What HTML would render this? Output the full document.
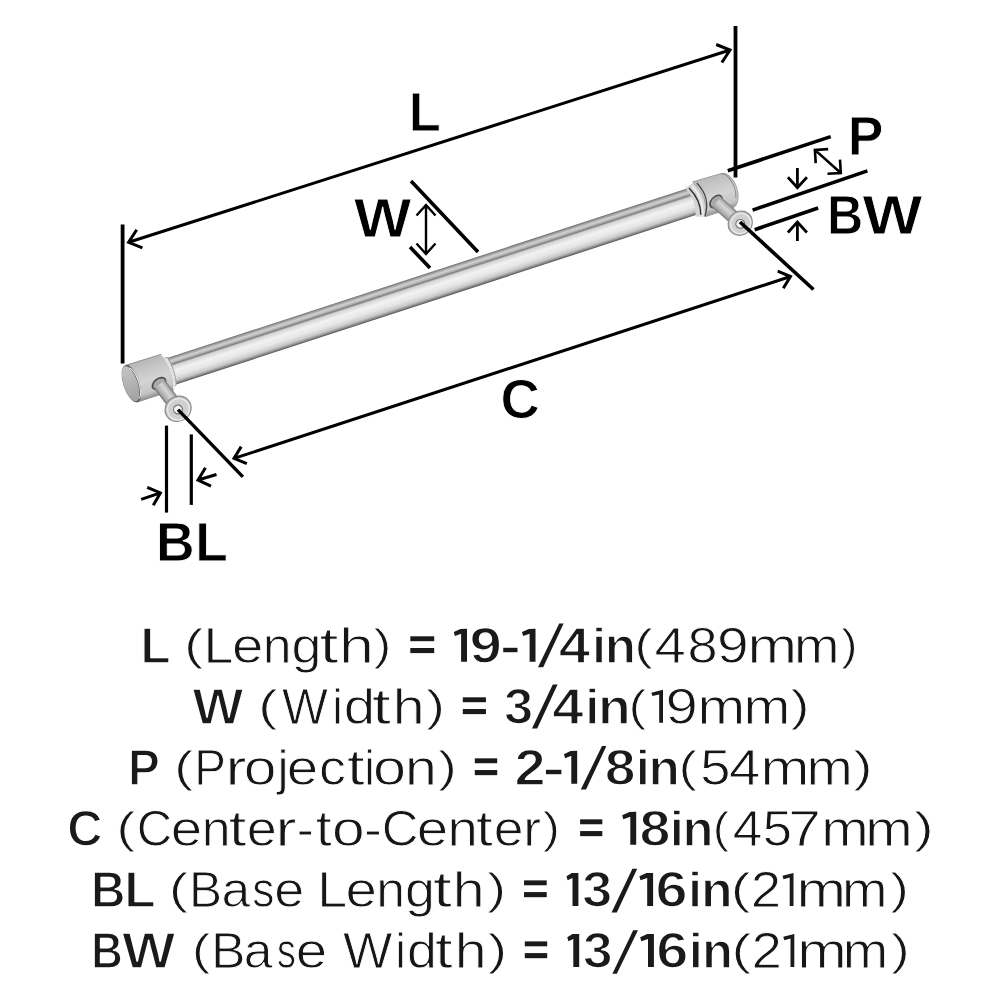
<!DOCTYPE html>
<html><head><meta charset="utf-8"><title>Pull dimensions</title>
<style>
html,body{margin:0;padding:0;background:#fff;width:1000px;height:1000px;overflow:hidden}
svg{display:block;will-change:transform}
text{font-family:"Liberation Sans",sans-serif}
</style></head><body>
<svg width="1000" height="1000" viewBox="0 0 1000 1000">
<rect width="1000" height="1000" fill="#fff"/>

<defs>
<linearGradient id="gbar" x1="0" y1="-14" x2="0" y2="14" gradientUnits="userSpaceOnUse">
 <stop offset="0" stop-color="#6a6a6a"/>
 <stop offset="0.06" stop-color="#a0a0a0"/>
 <stop offset="0.14" stop-color="#d2d2d2"/>
 <stop offset="0.21" stop-color="#b4b4b4"/>
 <stop offset="0.27" stop-color="#7e7e7e"/>
 <stop offset="0.33" stop-color="#d4d4d4"/>
 <stop offset="0.5" stop-color="#f2f2f2"/>
 <stop offset="0.7" stop-color="#e6e6e6"/>
 <stop offset="0.86" stop-color="#c6c6c6"/>
 <stop offset="0.94" stop-color="#8c8c8c"/>
 <stop offset="1" stop-color="#505050"/>
</linearGradient>
<linearGradient id="gcap" x1="0" y1="-19.5" x2="0" y2="19" gradientUnits="userSpaceOnUse">
 <stop offset="0" stop-color="#b8b8b8"/>
 <stop offset="0.25" stop-color="#c6c6c6"/>
 <stop offset="0.55" stop-color="#d4d4d4"/>
 <stop offset="0.85" stop-color="#c4c4c4"/>
 <stop offset="1" stop-color="#8c8c8c"/>
</linearGradient>
<linearGradient id="gface" x1="0" y1="-19" x2="0" y2="19" gradientUnits="userSpaceOnUse">
 <stop offset="0" stop-color="#c4c4c4"/>
 <stop offset="0.5" stop-color="#b2b2b2"/>
 <stop offset="1" stop-color="#a0a0a0"/>
</linearGradient>
<linearGradient id="gpin" x1="0" y1="-6.8" x2="0" y2="6.8" gradientUnits="userSpaceOnUse">
 <stop offset="0" stop-color="#7a7a7a"/>
 <stop offset="0.18" stop-color="#b8b8b8"/>
 <stop offset="0.4" stop-color="#d6d6d6"/>
 <stop offset="0.65" stop-color="#bdbdbd"/>
 <stop offset="0.85" stop-color="#a6a6a6"/>
 <stop offset="1" stop-color="#6e6e6e"/>
</linearGradient>
</defs>
<g transform="translate(380 303.3) rotate(-18.056)">
 <rect x="-224" y="-14" width="562" height="28" fill="url(#gbar)"/>
 <!-- left cap -->
 <path d="M-226 -15.5 L-219 -14.5 Q-215 0 -219 14.5 L-226 15.5 Z" fill="#e2e2e2" stroke="#999" stroke-width="0.8"/>
 <path d="M-261 -19.8 L-224 -19.3 Q-216 -2 -223 18.6 L-261 18.6 A8 19.2 0 0 1 -261 -19.8 Z" fill="url(#gcap)" stroke="#8e8e8e" stroke-width="0.9"/>
 <path d="M-224 -19.3 Q-216 -2 -223 18.6" fill="none" stroke="#e8e8e8" stroke-width="1.4"/>
 <ellipse cx="-261" cy="-0.6" rx="7.8" ry="19.3" fill="#5a5a5a"/>
 <ellipse cx="-262" cy="-0.8" rx="7" ry="18.3" fill="url(#gface)"/>
 <path d="M-258.5 -16.5 A6.5 17 0 0 1 -258.5 16" fill="none" stroke="#e6e6e6" stroke-width="1.1"/>
 <!-- right cap -->
 <path d="M326 -15 L336 -17.8 Q346 1 336 18.2 L327 15.5 Q333 0 326 -15 Z" fill="#d4d4d4"/>
 <path d="M335 -18.6 L364.5 -17.6 A10.5 18 0 0 1 364.5 18.6 L336 18.4 Q346 1 335 -18.6 Z" fill="url(#gcap)" stroke="#9a9a9a" stroke-width="0.8"/>
 <path d="M329.5 -13.8 Q337 1 332.5 15.2" fill="none" stroke="#2e2e2e" stroke-width="1.4"/>
 <path d="M338.5 -16.2 Q347.5 2 335.8 18" fill="none" stroke="#444" stroke-width="1.2"/>
 <path d="M333 -15.5 Q340.5 1 334 16.8" fill="none" stroke="#efefef" stroke-width="1.6"/>
 <path d="M364.5 -17.6 A10.5 18 0 0 1 371 10" fill="none" stroke="#8a8a8a" stroke-width="1"/>
</g>
<g transform="translate(159 383.5) rotate(52.94)">
 <ellipse cx="0" cy="0" rx="5.5" ry="8.3" fill="#4a4a4a"/>
 <ellipse cx="0.8" cy="0" rx="4.8" ry="6.9" fill="#a8a8a8"/>
 <rect x="0.8" y="-6.9" width="29.9" height="13.8" fill="url(#gpin)"/>
 <ellipse cx="28.7" cy="0" rx="6.7" ry="13.4" fill="#8e8e8e"/>
</g>
<g transform="translate(177.5 408) rotate(52.94)">
 <ellipse cx="1" cy="0" rx="12.3" ry="13.4" fill="#c4c4c4" stroke="#8a8a8a" stroke-width="1.1"/>
 <ellipse cx="1.6" cy="0" rx="10.5" ry="11.2" fill="#cfcfcf" stroke="#ececec" stroke-width="1.3"/>
 <circle cx="1.5" cy="0.5" r="4.4" fill="#f4f4f4" stroke="#6a6a6a" stroke-width="1.1"/>
</g><g transform="translate(716 201.5) rotate(41.78)">
 <ellipse cx="0" cy="0" rx="5.4" ry="8.2" fill="#4a4a4a"/>
 <ellipse cx="0.8" cy="0" rx="4.8" ry="6.8" fill="#a8a8a8"/>
 <rect x="0.8" y="-6.8" width="30.7" height="13.6" fill="url(#gpin)"/>
 <ellipse cx="29.5" cy="0" rx="6.3" ry="12.6" fill="#8e8e8e"/>
</g>
<g transform="translate(739.5 222.5) rotate(41.78)">
 <ellipse cx="1" cy="0" rx="11.6" ry="12.6" fill="#c4c4c4" stroke="#8a8a8a" stroke-width="1.1"/>
 <ellipse cx="1.6" cy="0" rx="9.8" ry="10.4" fill="#cfcfcf" stroke="#ececec" stroke-width="1.3"/>
 <circle cx="1.5" cy="0.5" r="4.4" fill="#f4f4f4" stroke="#6a6a6a" stroke-width="1.1"/>
</g>
<g fill="none" stroke="#000" stroke-linecap="butt" stroke-linejoin="miter">
<path d="M122.6 224.5 L122.6 363.5" stroke-width="3.8"/>
<path d="M735.5 26.0 L735.5 177.5" stroke-width="3.8"/>
<path d="M128.6 242.3 L730.0 50.0 M136.7 229.8 L128.6 242.3 L142.4 247.8 M721.9 62.5 L730.0 50.0 L716.2 44.5" stroke-width="3.0"/>
<path d="M411.0 181.0 L478.0 252.0" stroke-width="3.6"/>
<path d="M410.0 247.0 L430.0 268.0" stroke-width="3.6"/>
<path d="M426.0 205.0 L426.0 254.0 M435.5 215.5 L426.0 205.0 L416.5 215.5 M416.5 243.5 L426.0 254.0 L435.5 243.5" stroke-width="2.4"/>
<path d="M727.8 170.8 L830.7 136.6" stroke-width="3.6"/>
<path d="M752.6 210.1 L867.4 170.9" stroke-width="3.6"/>
<path d="M754.7 229.7 L818.1 208.0" stroke-width="3.6"/>
<path d="M814.9 149.9 L840.8 173.0 M828.2 149.1 L814.9 149.9 L815.7 163.2 M827.5 173.8 L840.8 173.0 L840.0 159.7" stroke-width="2.6"/>
<path d="M797.4 168.1 L797.4 187.7 M787.9 177.2 L797.4 187.7 L806.9 177.2" stroke-width="2.8"/>
<path d="M797.4 240.9 L797.4 222.0 M806.9 232.5 L797.4 222.0 L787.9 232.5" stroke-width="2.8"/>
<path d="M178.0 409.6 L242.9 476.9" stroke-width="3.4"/>
<path d="M740.0 222.0 L813.5 289.5" stroke-width="3.6"/>
<path d="M234.0 458.4 L790.5 276.5 M241.2 446.6 L234.0 458.4 L246.8 463.7 M783.3 288.3 L790.5 276.5 L777.7 271.2" stroke-width="3.0"/>
<path d="M166.5 425.6 L166.5 512.6" stroke-width="3.2"/>
<path d="M191.3 434.4 L191.3 504.9" stroke-width="3.2"/>
<path d="M141.2 499.3 L160.4 492.9 M153.3 505.3 L160.4 492.9 L147.2 487.3" stroke-width="3.0"/>
<path d="M216.5 474.5 L198.0 480.0 M205.5 467.8 L198.0 480.0 L211.0 486.1" stroke-width="3.0"/>
</g>
<text transform="matrix(0.9685 0 0 1 140.47 662.89)" font-weight="bold" font-size="50.8" fill="#1a1a1a" stroke="#fff" stroke-width="1.45" stroke-linejoin="round">L</text>
<text transform="matrix(1.2867 0 0 1 183.93 662.66)" font-weight="normal" font-size="49.9" fill="#161616" stroke="#fff" stroke-width="0.9" stroke-linejoin="round"><tspan font-size="45" dy="-2.6">(</tspan></text>
<text transform="matrix(1.0792 0 0 1 203.60 662.66)" font-weight="normal" font-size="49.9" fill="#161616" stroke="#fff" stroke-width="0.9" stroke-linejoin="round">L</text>
<text transform="matrix(1.1309 0 0 1 231.95 662.66)" font-weight="normal" font-size="49.9" fill="#161616" stroke="#fff" stroke-width="0.9" stroke-linejoin="round">e</text>
<text transform="matrix(1.0375 0 0 1 262.84 662.66)" font-weight="normal" font-size="49.9" fill="#161616" stroke="#fff" stroke-width="0.9" stroke-linejoin="round">n</text>
<text transform="matrix(1.0790 0 0 1 291.54 662.66)" font-weight="normal" font-size="49.9" fill="#161616" stroke="#fff" stroke-width="0.9" stroke-linejoin="round">g</text>
<text transform="matrix(1.3603 0 0 1 319.53 662.66)" font-weight="normal" font-size="49.9" fill="#161616" stroke="#fff" stroke-width="0.9" stroke-linejoin="round">t</text>
<text transform="matrix(1.2586 0 0 1 338.92 662.66)" font-weight="normal" font-size="49.9" fill="#161616" stroke="#fff" stroke-width="0.9" stroke-linejoin="round">h</text>
<text transform="matrix(1.1955 0 0 1 373.56 662.66)" font-weight="normal" font-size="49.9" fill="#161616" stroke="#fff" stroke-width="0.9" stroke-linejoin="round"><tspan font-size="45" dy="-2.6">)</tspan></text>
<text transform="matrix(1.1486 0 0 1 469.55 662.89)" font-weight="bold" font-size="50.8" fill="#1a1a1a" stroke="#fff" stroke-width="1.45" stroke-linejoin="round">9</text>
<text transform="matrix(1.2587 0 0 1 499.84 662.89)" font-weight="bold" font-size="50.8" fill="#1a1a1a" stroke="#fff" stroke-width="1.45" stroke-linejoin="round">-</text>
<text transform="matrix(1.1136 0 0 1 558.79 662.89)" font-weight="bold" font-size="50.8" fill="#1a1a1a" stroke="#fff" stroke-width="1.45" stroke-linejoin="round">4</text>
<text transform="matrix(1.0000 0 0 1 591.97 662.89)" font-weight="bold" font-size="50.8" fill="#1a1a1a" stroke="#fff" stroke-width="1.45" stroke-linejoin="round">i</text>
<text transform="matrix(1.0078 0 0 1 604.68 662.89)" font-weight="bold" font-size="50.8" fill="#1a1a1a" stroke="#fff" stroke-width="1.45" stroke-linejoin="round">n</text>
<text transform="matrix(1.2417 0 0 1 634.36 662.66)" font-weight="normal" font-size="49.9" fill="#161616" stroke="#fff" stroke-width="0.9" stroke-linejoin="round"><tspan font-size="45" dy="-2.6">(</tspan></text>
<text transform="matrix(1.1287 0 0 1 654.58 662.66)" font-weight="normal" font-size="49.9" fill="#161616" stroke="#fff" stroke-width="0.9" stroke-linejoin="round">4</text>
<text transform="matrix(1.0857 0 0 1 687.59 662.66)" font-weight="normal" font-size="49.9" fill="#161616" stroke="#fff" stroke-width="0.9" stroke-linejoin="round">8</text>
<text transform="matrix(1.1408 0 0 1 716.98 662.66)" font-weight="normal" font-size="49.9" fill="#161616" stroke="#fff" stroke-width="0.9" stroke-linejoin="round">9</text>
<text transform="matrix(1.1916 0 0 1 747.54 662.66)" font-weight="normal" font-size="49.9" fill="#161616" stroke="#fff" stroke-width="0.9" stroke-linejoin="round">m</text>
<text transform="matrix(1.0949 0 0 1 794.12 662.66)" font-weight="normal" font-size="49.9" fill="#161616" stroke="#fff" stroke-width="0.9" stroke-linejoin="round">m</text>
<text transform="matrix(1.0876 0 0 1 841.36 662.66)" font-weight="normal" font-size="49.9" fill="#161616" stroke="#fff" stroke-width="0.9" stroke-linejoin="round"><tspan font-size="45" dy="-2.6">)</tspan></text>
<text transform="matrix(1.0623 0 0 1 192.42 723.91)" font-weight="bold" font-size="50.8" fill="#1a1a1a" stroke="#fff" stroke-width="1.45" stroke-linejoin="round">W</text>
<text transform="matrix(1.3137 0 0 1 257.95 723.68)" font-weight="normal" font-size="49.9" fill="#161616" stroke="#fff" stroke-width="0.9" stroke-linejoin="round"><tspan font-size="45" dy="-2.6">(</tspan></text>
<text transform="matrix(0.9746 0 0 1 282.09 723.68)" font-weight="normal" font-size="49.9" fill="#161616" stroke="#fff" stroke-width="0.9" stroke-linejoin="round">W</text>
<text transform="matrix(1.0000 0 0 1 331.93 723.68)" font-weight="normal" font-size="49.9" fill="#161616" stroke="#fff" stroke-width="0.9" stroke-linejoin="round">i</text>
<text transform="matrix(1.1304 0 0 1 343.81 723.68)" font-weight="normal" font-size="49.9" fill="#161616" stroke="#fff" stroke-width="0.9" stroke-linejoin="round">d</text>
<text transform="matrix(1.3603 0 0 1 371.93 723.68)" font-weight="normal" font-size="49.9" fill="#161616" stroke="#fff" stroke-width="0.9" stroke-linejoin="round">t</text>
<text transform="matrix(1.1491 0 0 1 392.86 723.68)" font-weight="normal" font-size="49.9" fill="#161616" stroke="#fff" stroke-width="0.9" stroke-linejoin="round">h</text>
<text transform="matrix(1.2763 0 0 1 425.88 723.68)" font-weight="normal" font-size="49.9" fill="#161616" stroke="#fff" stroke-width="0.9" stroke-linejoin="round"><tspan font-size="45" dy="-2.6">)</tspan></text>
<text transform="matrix(1.0312 0 0 1 503.95 723.91)" font-weight="bold" font-size="50.8" fill="#1a1a1a" stroke="#fff" stroke-width="1.45" stroke-linejoin="round">3</text>
<text transform="matrix(1.1097 0 0 1 552.30 723.91)" font-weight="bold" font-size="50.8" fill="#1a1a1a" stroke="#fff" stroke-width="1.45" stroke-linejoin="round">4</text>
<text transform="matrix(1.0000 0 0 1 585.37 723.91)" font-weight="bold" font-size="50.8" fill="#1a1a1a" stroke="#fff" stroke-width="1.45" stroke-linejoin="round">i</text>
<text transform="matrix(1.0558 0 0 1 597.88 723.91)" font-weight="bold" font-size="50.8" fill="#1a1a1a" stroke="#fff" stroke-width="1.45" stroke-linejoin="round">n</text>
<text transform="matrix(1.1877 0 0 1 628.52 723.68)" font-weight="normal" font-size="49.9" fill="#161616" stroke="#fff" stroke-width="0.9" stroke-linejoin="round"><tspan font-size="45" dy="-2.6">(</tspan></text>
<text transform="matrix(1.1634 0 0 1 665.62 723.68)" font-weight="normal" font-size="49.9" fill="#161616" stroke="#fff" stroke-width="0.9" stroke-linejoin="round">9</text>
<text transform="matrix(1.1476 0 0 1 697.51 723.68)" font-weight="normal" font-size="49.9" fill="#161616" stroke="#fff" stroke-width="0.9" stroke-linejoin="round">m</text>
<text transform="matrix(1.1272 0 0 1 743.39 723.68)" font-weight="normal" font-size="49.9" fill="#161616" stroke="#fff" stroke-width="0.9" stroke-linejoin="round">m</text>
<text transform="matrix(1.2763 0 0 1 790.58 723.68)" font-weight="normal" font-size="49.9" fill="#161616" stroke="#fff" stroke-width="0.9" stroke-linejoin="round"><tspan font-size="45" dy="-2.6">)</tspan></text>
<text transform="matrix(0.9383 0 0 1 128.10 784.93)" font-weight="bold" font-size="50.8" fill="#1a1a1a" stroke="#fff" stroke-width="1.45" stroke-linejoin="round">P</text>
<text transform="matrix(1.2867 0 0 1 173.93 784.70)" font-weight="normal" font-size="49.9" fill="#161616" stroke="#fff" stroke-width="0.9" stroke-linejoin="round"><tspan font-size="45" dy="-2.6">(</tspan></text>
<text transform="matrix(0.9513 0 0 1 194.19 784.70)" font-weight="normal" font-size="49.9" fill="#161616" stroke="#fff" stroke-width="0.9" stroke-linejoin="round">P</text>
<text transform="matrix(1.2631 0 0 1 225.58 784.70)" font-weight="normal" font-size="49.9" fill="#161616" stroke="#fff" stroke-width="0.9" stroke-linejoin="round">r</text>
<text transform="matrix(1.1765 0 0 1 243.87 784.70)" font-weight="normal" font-size="49.9" fill="#161616" stroke="#fff" stroke-width="0.9" stroke-linejoin="round">o</text>
<text transform="matrix(1.0000 0 0 1 277.50 784.70)" font-weight="normal" font-size="49.9" fill="#161616" stroke="#fff" stroke-width="0.9" stroke-linejoin="round">j</text>
<text transform="matrix(1.1309 0 0 1 286.85 784.70)" font-weight="normal" font-size="49.9" fill="#161616" stroke="#fff" stroke-width="0.9" stroke-linejoin="round">e</text>
<text transform="matrix(1.0797 0 0 1 318.90 784.70)" font-weight="normal" font-size="49.9" fill="#161616" stroke="#fff" stroke-width="0.9" stroke-linejoin="round">c</text>
<text transform="matrix(1.2696 0 0 1 347.01 784.70)" font-weight="normal" font-size="49.9" fill="#161616" stroke="#fff" stroke-width="0.9" stroke-linejoin="round">t</text>
<text transform="matrix(1.0000 0 0 1 364.03 784.70)" font-weight="normal" font-size="49.9" fill="#161616" stroke="#fff" stroke-width="0.9" stroke-linejoin="round">i</text>
<text transform="matrix(1.1899 0 0 1 373.04 784.70)" font-weight="normal" font-size="49.9" fill="#161616" stroke="#fff" stroke-width="0.9" stroke-linejoin="round">o</text>
<text transform="matrix(1.1467 0 0 1 405.02 784.70)" font-weight="normal" font-size="49.9" fill="#161616" stroke="#fff" stroke-width="0.9" stroke-linejoin="round">n</text>
<text transform="matrix(1.2674 0 0 1 437.99 784.70)" font-weight="normal" font-size="49.9" fill="#161616" stroke="#fff" stroke-width="0.9" stroke-linejoin="round"><tspan font-size="45" dy="-2.6">)</tspan></text>
<text transform="matrix(1.1011 0 0 1 514.59 784.93)" font-weight="bold" font-size="50.8" fill="#1a1a1a" stroke="#fff" stroke-width="1.45" stroke-linejoin="round">2</text>
<text transform="matrix(1.3555 0 0 1 542.17 784.93)" font-weight="bold" font-size="50.8" fill="#1a1a1a" stroke="#fff" stroke-width="1.45" stroke-linejoin="round">-</text>
<text transform="matrix(1.0892 0 0 1 604.66 784.93)" font-weight="bold" font-size="50.8" fill="#1a1a1a" stroke="#fff" stroke-width="1.45" stroke-linejoin="round">8</text>
<text transform="matrix(1.0000 0 0 1 635.87 784.93)" font-weight="bold" font-size="50.8" fill="#1a1a1a" stroke="#fff" stroke-width="1.45" stroke-linejoin="round">i</text>
<text transform="matrix(1.0121 0 0 1 648.56 784.93)" font-weight="bold" font-size="50.8" fill="#1a1a1a" stroke="#fff" stroke-width="1.45" stroke-linejoin="round">n</text>
<text transform="matrix(1.2327 0 0 1 678.39 784.70)" font-weight="normal" font-size="49.9" fill="#161616" stroke="#fff" stroke-width="0.9" stroke-linejoin="round"><tspan font-size="45" dy="-2.6">(</tspan></text>
<text transform="matrix(1.0889 0 0 1 700.28 784.70)" font-weight="normal" font-size="49.9" fill="#161616" stroke="#fff" stroke-width="0.9" stroke-linejoin="round">5</text>
<text transform="matrix(1.1287 0 0 1 728.98 784.70)" font-weight="normal" font-size="49.9" fill="#161616" stroke="#fff" stroke-width="0.9" stroke-linejoin="round">4</text>
<text transform="matrix(1.1769 0 0 1 760.40 784.70)" font-weight="normal" font-size="49.9" fill="#161616" stroke="#fff" stroke-width="0.9" stroke-linejoin="round">m</text>
<text transform="matrix(1.1125 0 0 1 806.45 784.70)" font-weight="normal" font-size="49.9" fill="#161616" stroke="#fff" stroke-width="0.9" stroke-linejoin="round">m</text>
<text transform="matrix(1.2943 0 0 1 853.17 784.70)" font-weight="normal" font-size="49.9" fill="#161616" stroke="#fff" stroke-width="0.9" stroke-linejoin="round"><tspan font-size="45" dy="-2.6">)</tspan></text>
<text transform="matrix(0.9627 0 0 1 67.23 845.95)" font-weight="bold" font-size="50.8" fill="#1a1a1a" stroke="#fff" stroke-width="1.45" stroke-linejoin="round">C</text>
<text transform="matrix(1.2777 0 0 1 116.26 845.72)" font-weight="normal" font-size="49.9" fill="#161616" stroke="#fff" stroke-width="0.9" stroke-linejoin="round"><tspan font-size="45" dy="-2.6">(</tspan></text>
<text transform="matrix(0.9818 0 0 1 136.82 845.72)" font-weight="normal" font-size="49.9" fill="#161616" stroke="#fff" stroke-width="0.9" stroke-linejoin="round">C</text>
<text transform="matrix(1.1309 0 0 1 170.75 845.72)" font-weight="normal" font-size="49.9" fill="#161616" stroke="#fff" stroke-width="0.9" stroke-linejoin="round">e</text>
<text transform="matrix(1.0375 0 0 1 201.64 845.72)" font-weight="normal" font-size="49.9" fill="#161616" stroke="#fff" stroke-width="0.9" stroke-linejoin="round">n</text>
<text transform="matrix(1.2696 0 0 1 228.71 845.72)" font-weight="normal" font-size="49.9" fill="#161616" stroke="#fff" stroke-width="0.9" stroke-linejoin="round">t</text>
<text transform="matrix(1.0817 0 0 1 246.79 845.72)" font-weight="normal" font-size="49.9" fill="#161616" stroke="#fff" stroke-width="0.9" stroke-linejoin="round">e</text>
<text transform="matrix(1.2631 0 0 1 275.58 845.72)" font-weight="normal" font-size="49.9" fill="#161616" stroke="#fff" stroke-width="0.9" stroke-linejoin="round">r</text>
<text transform="matrix(1.0292 0 0 1 296.74 845.72)" font-weight="normal" font-size="49.9" fill="#161616" stroke="#fff" stroke-width="0.9" stroke-linejoin="round">-</text>
<text transform="matrix(1.1542 0 0 1 315.72 845.72)" font-weight="normal" font-size="49.9" fill="#161616" stroke="#fff" stroke-width="0.9" stroke-linejoin="round">t</text>
<text transform="matrix(1.1765 0 0 1 332.07 845.72)" font-weight="normal" font-size="49.9" fill="#161616" stroke="#fff" stroke-width="0.9" stroke-linejoin="round">o</text>
<text transform="matrix(1.0736 0 0 1 364.11 845.72)" font-weight="normal" font-size="49.9" fill="#161616" stroke="#fff" stroke-width="0.9" stroke-linejoin="round">-</text>
<text transform="matrix(1.0181 0 0 1 381.71 845.72)" font-weight="normal" font-size="49.9" fill="#161616" stroke="#fff" stroke-width="0.9" stroke-linejoin="round">C</text>
<text transform="matrix(1.1309 0 0 1 416.85 845.72)" font-weight="normal" font-size="49.9" fill="#161616" stroke="#fff" stroke-width="0.9" stroke-linejoin="round">e</text>
<text transform="matrix(1.0921 0 0 1 447.53 845.72)" font-weight="normal" font-size="49.9" fill="#161616" stroke="#fff" stroke-width="0.9" stroke-linejoin="round">n</text>
<text transform="matrix(1.2119 0 0 1 475.96 845.72)" font-weight="normal" font-size="49.9" fill="#161616" stroke="#fff" stroke-width="0.9" stroke-linejoin="round">t</text>
<text transform="matrix(1.0727 0 0 1 493.81 845.72)" font-weight="normal" font-size="49.9" fill="#161616" stroke="#fff" stroke-width="0.9" stroke-linejoin="round">e</text>
<text transform="matrix(1.0688 0 0 1 523.14 845.72)" font-weight="normal" font-size="49.9" fill="#161616" stroke="#fff" stroke-width="0.9" stroke-linejoin="round">r</text>
<text transform="matrix(1.1505 0 0 1 542.70 845.72)" font-weight="normal" font-size="49.9" fill="#161616" stroke="#fff" stroke-width="0.9" stroke-linejoin="round"><tspan font-size="45" dy="-2.6">)</tspan></text>
<text transform="matrix(1.0975 0 0 1 639.54 845.95)" font-weight="bold" font-size="50.8" fill="#1a1a1a" stroke="#fff" stroke-width="1.45" stroke-linejoin="round">8</text>
<text transform="matrix(1.0000 0 0 1 669.87 845.95)" font-weight="bold" font-size="50.8" fill="#1a1a1a" stroke="#fff" stroke-width="1.45" stroke-linejoin="round">i</text>
<text transform="matrix(0.9991 0 0 1 682.42 845.95)" font-weight="bold" font-size="50.8" fill="#1a1a1a" stroke="#fff" stroke-width="1.45" stroke-linejoin="round">n</text>
<text transform="matrix(1.0887 0 0 1 712.81 845.72)" font-weight="normal" font-size="49.9" fill="#161616" stroke="#fff" stroke-width="0.9" stroke-linejoin="round"><tspan font-size="45" dy="-2.6">(</tspan></text>
<text transform="matrix(1.0671 0 0 1 732.79 845.72)" font-weight="normal" font-size="49.9" fill="#161616" stroke="#fff" stroke-width="0.9" stroke-linejoin="round">4</text>
<text transform="matrix(1.0529 0 0 1 762.78 845.72)" font-weight="normal" font-size="49.9" fill="#161616" stroke="#fff" stroke-width="0.9" stroke-linejoin="round">5</text>
<text transform="matrix(1.1764 0 0 1 788.32 845.72)" font-weight="normal" font-size="49.9" fill="#161616" stroke="#fff" stroke-width="0.9" stroke-linejoin="round">7</text>
<text transform="matrix(1.1418 0 0 1 821.14 845.72)" font-weight="normal" font-size="49.9" fill="#161616" stroke="#fff" stroke-width="0.9" stroke-linejoin="round">m</text>
<text transform="matrix(1.1418 0 0 1 865.34 845.72)" font-weight="normal" font-size="49.9" fill="#161616" stroke="#fff" stroke-width="0.9" stroke-linejoin="round">m</text>
<text transform="matrix(1.3213 0 0 1 914.04 845.72)" font-weight="normal" font-size="49.9" fill="#161616" stroke="#fff" stroke-width="0.9" stroke-linejoin="round"><tspan font-size="45" dy="-2.6">)</tspan></text>
<text transform="matrix(0.9390 0 0 1 90.90 906.97)" font-weight="bold" font-size="50.8" fill="#1a1a1a" stroke="#fff" stroke-width="1.45" stroke-linejoin="round">B</text>
<text transform="matrix(1.0114 0 0 1 124.20 906.97)" font-weight="bold" font-size="50.8" fill="#1a1a1a" stroke="#fff" stroke-width="1.45" stroke-linejoin="round">L</text>
<text transform="matrix(1.2957 0 0 1 168.80 906.74)" font-weight="normal" font-size="49.9" fill="#161616" stroke="#fff" stroke-width="0.9" stroke-linejoin="round"><tspan font-size="45" dy="-2.6">(</tspan></text>
<text transform="matrix(0.9942 0 0 1 189.00 906.74)" font-weight="normal" font-size="49.9" fill="#161616" stroke="#fff" stroke-width="0.9" stroke-linejoin="round">B</text>
<text transform="matrix(1.0346 0 0 1 221.57 906.74)" font-weight="normal" font-size="49.9" fill="#161616" stroke="#fff" stroke-width="0.9" stroke-linejoin="round">a</text>
<text transform="matrix(0.8880 0 0 1 252.35 906.74)" font-weight="normal" font-size="49.9" fill="#161616" stroke="#fff" stroke-width="0.9" stroke-linejoin="round">s</text>
<text transform="matrix(1.0817 0 0 1 274.29 906.74)" font-weight="normal" font-size="49.9" fill="#161616" stroke="#fff" stroke-width="0.9" stroke-linejoin="round">e</text>
<text transform="matrix(1.0792 0 0 1 317.20 906.74)" font-weight="normal" font-size="49.9" fill="#161616" stroke="#fff" stroke-width="0.9" stroke-linejoin="round">L</text>
<text transform="matrix(1.1309 0 0 1 345.45 906.74)" font-weight="normal" font-size="49.9" fill="#161616" stroke="#fff" stroke-width="0.9" stroke-linejoin="round">e</text>
<text transform="matrix(1.0375 0 0 1 376.34 906.74)" font-weight="normal" font-size="49.9" fill="#161616" stroke="#fff" stroke-width="0.9" stroke-linejoin="round">n</text>
<text transform="matrix(1.0790 0 0 1 405.04 906.74)" font-weight="normal" font-size="49.9" fill="#161616" stroke="#fff" stroke-width="0.9" stroke-linejoin="round">g</text>
<text transform="matrix(1.3603 0 0 1 433.03 906.74)" font-weight="normal" font-size="49.9" fill="#161616" stroke="#fff" stroke-width="0.9" stroke-linejoin="round">t</text>
<text transform="matrix(1.1491 0 0 1 452.86 906.74)" font-weight="normal" font-size="49.9" fill="#161616" stroke="#fff" stroke-width="0.9" stroke-linejoin="round">h</text>
<text transform="matrix(1.2853 0 0 1 486.98 906.74)" font-weight="normal" font-size="49.9" fill="#161616" stroke="#fff" stroke-width="0.9" stroke-linejoin="round"><tspan font-size="45" dy="-2.6">)</tspan></text>
<text transform="matrix(1.0607 0 0 1 582.18 906.97)" font-weight="bold" font-size="50.8" fill="#1a1a1a" stroke="#fff" stroke-width="1.45" stroke-linejoin="round">3</text>
<text transform="matrix(1.1367 0 0 1 655.50 906.97)" font-weight="bold" font-size="50.8" fill="#1a1a1a" stroke="#fff" stroke-width="1.45" stroke-linejoin="round">6</text>
<text transform="matrix(1.0000 0 0 1 687.92 906.97)" font-weight="bold" font-size="50.8" fill="#1a1a1a" stroke="#fff" stroke-width="1.45" stroke-linejoin="round">i</text>
<text transform="matrix(1.0209 0 0 1 701.02 906.97)" font-weight="bold" font-size="50.8" fill="#1a1a1a" stroke="#fff" stroke-width="1.45" stroke-linejoin="round">n</text>
<text transform="matrix(1.3497 0 0 1 730.55 906.74)" font-weight="normal" font-size="49.9" fill="#161616" stroke="#fff" stroke-width="0.9" stroke-linejoin="round"><tspan font-size="45" dy="-2.6">(</tspan></text>
<text transform="matrix(1.0945 0 0 1 750.67 906.74)" font-weight="normal" font-size="49.9" fill="#161616" stroke="#fff" stroke-width="0.9" stroke-linejoin="round">2</text>
<text transform="matrix(1.1916 0 0 1 796.54 906.74)" font-weight="normal" font-size="49.9" fill="#161616" stroke="#fff" stroke-width="0.9" stroke-linejoin="round">m</text>
<text transform="matrix(1.0949 0 0 1 842.02 906.74)" font-weight="normal" font-size="49.9" fill="#161616" stroke="#fff" stroke-width="0.9" stroke-linejoin="round">m</text>
<text transform="matrix(1.2494 0 0 1 890.21 906.74)" font-weight="normal" font-size="49.9" fill="#161616" stroke="#fff" stroke-width="0.9" stroke-linejoin="round"><tspan font-size="45" dy="-2.6">)</tspan></text>
<text transform="matrix(0.8608 0 0 1 91.32 967.99)" font-weight="bold" font-size="50.8" fill="#1a1a1a" stroke="#fff" stroke-width="1.45" stroke-linejoin="round">B</text>
<text transform="matrix(1.1119 0 0 1 122.10 967.99)" font-weight="bold" font-size="50.8" fill="#1a1a1a" stroke="#fff" stroke-width="1.45" stroke-linejoin="round">W</text>
<text transform="matrix(1.2417 0 0 1 191.86 967.76)" font-weight="normal" font-size="49.9" fill="#161616" stroke="#fff" stroke-width="0.9" stroke-linejoin="round"><tspan font-size="45" dy="-2.6">(</tspan></text>
<text transform="matrix(1.0374 0 0 1 211.10 967.76)" font-weight="normal" font-size="49.9" fill="#161616" stroke="#fff" stroke-width="0.9" stroke-linejoin="round">B</text>
<text transform="matrix(1.0346 0 0 1 243.87 967.76)" font-weight="normal" font-size="49.9" fill="#161616" stroke="#fff" stroke-width="0.9" stroke-linejoin="round">a</text>
<text transform="matrix(0.7550 0 0 1 277.11 967.76)" font-weight="normal" font-size="49.9" fill="#161616" stroke="#fff" stroke-width="0.9" stroke-linejoin="round">s</text>
<text transform="matrix(1.1309 0 0 1 295.75 967.76)" font-weight="normal" font-size="49.9" fill="#161616" stroke="#fff" stroke-width="0.9" stroke-linejoin="round">e</text>
<text transform="matrix(1.0476 0 0 1 342.92 967.76)" font-weight="normal" font-size="49.9" fill="#161616" stroke="#fff" stroke-width="0.9" stroke-linejoin="round">W</text>
<text transform="matrix(1.0000 0 0 1 395.03 967.76)" font-weight="normal" font-size="49.9" fill="#161616" stroke="#fff" stroke-width="0.9" stroke-linejoin="round">i</text>
<text transform="matrix(1.0790 0 0 1 407.04 967.76)" font-weight="normal" font-size="49.9" fill="#161616" stroke="#fff" stroke-width="0.9" stroke-linejoin="round">d</text>
<text transform="matrix(1.2696 0 0 1 435.11 967.76)" font-weight="normal" font-size="49.9" fill="#161616" stroke="#fff" stroke-width="0.9" stroke-linejoin="round">t</text>
<text transform="matrix(1.1491 0 0 1 454.86 967.76)" font-weight="normal" font-size="49.9" fill="#161616" stroke="#fff" stroke-width="0.9" stroke-linejoin="round">h</text>
<text transform="matrix(1.3033 0 0 1 487.86 967.76)" font-weight="normal" font-size="49.9" fill="#161616" stroke="#fff" stroke-width="0.9" stroke-linejoin="round"><tspan font-size="45" dy="-2.6">)</tspan></text>
<text transform="matrix(1.0481 0 0 1 583.01 967.99)" font-weight="bold" font-size="50.8" fill="#1a1a1a" stroke="#fff" stroke-width="1.45" stroke-linejoin="round">3</text>
<text transform="matrix(1.1367 0 0 1 656.30 967.99)" font-weight="bold" font-size="50.8" fill="#1a1a1a" stroke="#fff" stroke-width="1.45" stroke-linejoin="round">6</text>
<text transform="matrix(1.0000 0 0 1 688.72 967.99)" font-weight="bold" font-size="50.8" fill="#1a1a1a" stroke="#fff" stroke-width="1.45" stroke-linejoin="round">i</text>
<text transform="matrix(0.9991 0 0 1 701.92 967.99)" font-weight="bold" font-size="50.8" fill="#1a1a1a" stroke="#fff" stroke-width="1.45" stroke-linejoin="round">n</text>
<text transform="matrix(1.3497 0 0 1 731.35 967.76)" font-weight="normal" font-size="49.9" fill="#161616" stroke="#fff" stroke-width="0.9" stroke-linejoin="round"><tspan font-size="45" dy="-2.6">(</tspan></text>
<text transform="matrix(1.0945 0 0 1 751.47 967.76)" font-weight="normal" font-size="49.9" fill="#161616" stroke="#fff" stroke-width="0.9" stroke-linejoin="round">2</text>
<text transform="matrix(1.1916 0 0 1 797.34 967.76)" font-weight="normal" font-size="49.9" fill="#161616" stroke="#fff" stroke-width="0.9" stroke-linejoin="round">m</text>
<text transform="matrix(1.0949 0 0 1 842.82 967.76)" font-weight="normal" font-size="49.9" fill="#161616" stroke="#fff" stroke-width="0.9" stroke-linejoin="round">m</text>
<text transform="matrix(1.2584 0 0 1 891.00 967.76)" font-weight="normal" font-size="49.9" fill="#161616" stroke="#fff" stroke-width="0.9" stroke-linejoin="round"><tspan font-size="45" dy="-2.6">)</tspan></text>
<text transform="matrix(0.9459 0 0 1 408.68 131.26)" font-weight="bold" font-size="55.5" fill="#000" stroke="#fff" stroke-width="0.9" stroke-linejoin="round">L</text>
<text transform="matrix(1.0943 0 0 1 354.03 236.56)" font-weight="bold" font-size="55.5" fill="#000" stroke="#fff" stroke-width="0.9" stroke-linejoin="round">W</text>
<text transform="matrix(0.9646 0 0 1 847.70 154.56)" font-weight="bold" font-size="55.5" fill="#000" stroke="#fff" stroke-width="0.9" stroke-linejoin="round">P</text>
<text transform="matrix(0.9030 0 0 1 826.94 234.06)" font-weight="bold" font-size="55.5" fill="#000" stroke="#fff" stroke-width="0.9" stroke-linejoin="round">B</text>
<text transform="matrix(1.1432 0 0 1 862.48 234.06)" font-weight="bold" font-size="55.5" fill="#000" stroke="#fff" stroke-width="0.9" stroke-linejoin="round">W</text>
<text transform="matrix(0.9801 0 0 1 500.45 418.06)" font-weight="bold" font-size="55.5" fill="#000" stroke="#fff" stroke-width="0.9" stroke-linejoin="round">C</text>
<text transform="matrix(0.9632 0 0 1 156.11 561.46)" font-weight="bold" font-size="55.5" fill="#000" stroke="#fff" stroke-width="0.9" stroke-linejoin="round">B</text>
<text transform="matrix(0.9601 0 0 1 195.22 561.46)" font-weight="bold" font-size="55.5" fill="#000" stroke="#fff" stroke-width="0.9" stroke-linejoin="round">L</text>
<g fill="#1a1a1a"><path d="M559.2 623.6 L563.6 623.6 L543.2 667.2 L538 667.2 Z"/><path d="M552.8 684.6 L557.6 684.6 L537.2 728.6 L532 728.6 Z"/><path d="M602 746 L606.4 746 L586 789.6 L580.8 789.6 Z"/><path d="M632.4 868.8 L637.2 868.8 L616.8 912.4 L611.6 912.4 Z"/><path d="M633.2 930.2 L638 930.2 L616.8 973.8 L612.4 973.8 Z"/><rect x="410.30" y="636.30" width="23.90" height="4.9"/><rect x="410.30" y="648.00" width="23.90" height="5.1"/><rect x="462.80" y="697.32" width="23.15" height="4.9"/><rect x="462.80" y="709.02" width="23.15" height="5.1"/><rect x="474.80" y="758.34" width="22.40" height="4.9"/><rect x="474.80" y="770.04" width="22.40" height="5.1"/><rect x="580.10" y="819.36" width="22.20" height="4.9"/><rect x="580.10" y="831.06" width="22.20" height="5.1"/><rect x="524.05" y="880.38" width="22.65" height="4.9"/><rect x="524.05" y="892.08" width="22.65" height="5.1"/><rect x="524.80" y="941.40" width="22.40" height="4.9"/><rect x="524.80" y="953.10" width="22.40" height="5.1"/><path d="M467.00 628.80 L460.30 628.90 L453.80 632.10 L454.90 636.10 L461.10 633.80 L461.10 661.80 L467.00 661.80 Z"/><path d="M535.50 628.80 L528.80 628.90 L522.00 632.10 L523.10 636.10 L529.60 633.80 L529.60 661.80 L535.50 661.80 Z"/><path d="M663.00 689.82 L651.40 692.72 L652.40 696.12 L659.20 694.52 L659.20 722.82 L663.00 722.82 Z"/><path d="M577.20 750.84 L570.50 750.94 L564.00 754.14 L565.10 758.14 L571.30 755.84 L571.30 783.84 L577.20 783.84 Z"/><path d="M636.20 811.86 L629.50 811.96 L622.20 815.16 L623.30 819.16 L630.30 816.86 L630.30 844.86 L636.20 844.86 Z"/><path d="M578.40 872.88 L571.70 872.98 L566.50 876.18 L567.60 880.18 L572.50 877.88 L572.50 905.88 L578.40 905.88 Z"/><path d="M653.10 872.88 L646.40 872.98 L639.40 876.18 L640.50 880.18 L647.20 877.88 L647.20 905.88 L653.10 905.88 Z"/><path d="M793.50 872.88 L782.50 875.78 L783.50 879.18 L789.70 877.58 L789.70 905.88 L793.50 905.88 Z"/><path d="M579.20 933.90 L572.50 934.00 L567.30 937.20 L568.40 941.20 L573.30 938.90 L573.30 966.90 L579.20 966.90 Z"/><path d="M653.90 933.90 L647.20 934.00 L640.20 937.20 L641.30 941.20 L648.00 938.90 L648.00 966.90 L653.90 966.90 Z"/><path d="M794.30 933.90 L783.30 936.80 L784.30 940.20 L790.50 938.60 L790.50 966.90 L794.30 966.90 Z"/></g>
</svg></body></html>
